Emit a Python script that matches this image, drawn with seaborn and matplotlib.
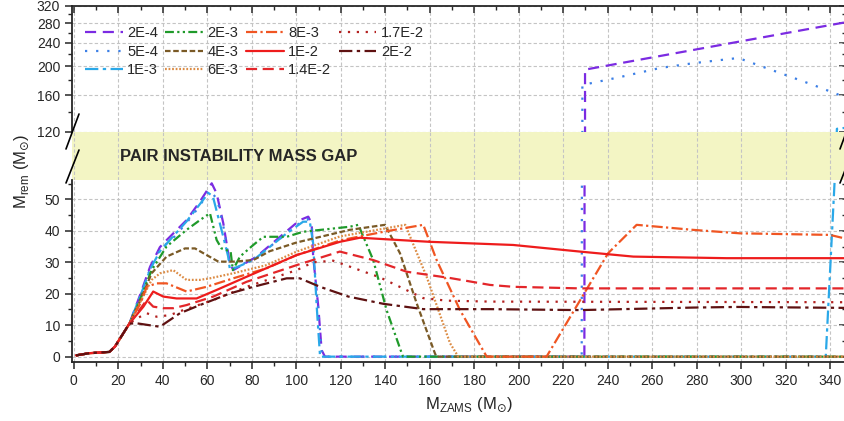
import numpy as np
import pandas as pd
import matplotlib
matplotlib.use('Agg')
import matplotlib.pyplot as plt
from matplotlib.lines import Line2D
from matplotlib.ticker import MultipleLocator, FixedLocator, NullFormatter, FormatStrFormatter
import seaborn as sns

# ---- data ----
labels = ['2E-4', '5E-4', '1E-3', '2E-3', '4E-3', '6E-3', '8E-3', '1E-2', '1.4E-2', '1.7E-2', '2E-2']

# low-mass part shared by every track
start_x = [1, 7, 16, 18.5, 25]
start_y = [0.4, 1.1, 1.5, 3.2, 10.5]

mzams_2e4 = start_x + [30, 34.3, 38.7, 41.8, 50.7, 56.7, 62, 64.2, 67.2, 70.2, 71.7, 82.2, 92.7, 101.6, 105.4,
                       106.9, 107.6, 109.9, 111.4, 112.9, 229.5, 229.8, 347]
mrem_2e4 = start_y + [20, 28.6, 34.8, 37.1, 43.4, 49.3, 55.1, 51.9, 42.4, 29.5, 27.5, 31.8, 38.1, 43.4, 44.5,
                      42.4, 31.8, 15.9, 2.1, 0, 0, 195, 282]

mzams_5e4 = start_x + [30, 34.5, 38.7, 45, 50.7, 56.7, 61, 64.5, 67.5, 70.2, 71.7, 82, 92.7, 101.6, 105, 107,
                       108, 110, 111.5, 113, 228.3, 228.6, 245.5, 263.5, 278.4, 298.7, 317.4, 332.4, 347]
mrem_5e4 = start_y + [19.5, 28.3, 34, 38, 42.5, 48, 53, 50, 40.5, 29, 28, 31.5, 37.5, 42.5, 43.8, 41.5,
                      30, 14, 1, 0, 0, 173, 184, 197.5, 205, 213.5, 190, 173, 157]

mzams_1e3 = start_x + [30, 34.5, 38.7, 45, 50.7, 56.7, 60.5, 62.5, 67.2, 69.4, 70.2, 80.7, 95.7, 103.1, 106.1,
                       107.6, 109.2, 110.7, 338, 342, 343, 347]
mrem_1e3 = start_y + [19.5, 28, 33.5, 38.5, 43, 48.5, 52, 51, 38.1, 31.8, 27.5, 30.7, 39.2, 42.9, 42.9,
                      36, 15.9, 0, 0, 56, 123, 124]

mzams_2e3 = start_x + [30, 35, 41.7, 50.7, 56.7, 61.2, 64.2, 66.4, 70.5, 71.5, 74.7, 80.7, 85.2, 95.7, 103.1,
                       124.1, 127.9, 134.6, 140.6, 147.4, 148, 347]
mrem_2e3 = start_y + [18.5, 27.5, 35, 40.3, 43.4, 45.6, 37.1, 34.4, 33.4, 27.5, 31.8, 35.5, 38.1, 38.1, 39.7,
                      41.3, 41.9, 30.7, 14.8, 1.1, 0, 0]

mzams_4e3 = start_x + [30, 35, 41.7, 50, 54.5, 59.7, 65, 71.7, 80.7, 88, 100.2, 124, 139.9, 146.6, 154.1,
                       162.3, 163, 347]
mrem_4e3 = start_y + [18, 26.5, 31.8, 34.4, 34.4, 32.3, 30.2, 30.2, 30.7, 33.5, 36.3, 40.3, 41.9, 32.9, 17,
                      1.1, 0, 0]

mzams_6e3 = start_x + [30, 35, 38.8, 44.7, 50.7, 56.7, 61.2, 71.7, 86.7, 100.2, 119.6, 149, 158.6, 169.1,
                       172.8, 347]
mrem_6e3 = start_y + [17.5, 24.4, 26.5, 27.5, 24.4, 24.4, 24.9, 26.5, 29.1, 33.4, 38.2, 41.9, 25.4, 4.3,
                      0, 0]

mzams_8e3 = start_x + [30, 32.8, 37.2, 41.7, 50.7, 59.7, 71.7, 86.7, 100.2, 120, 140, 157.1, 163.1, 173.6,
                       185.6, 212.5, 240.2, 253, 278.4, 299.4, 339.9, 347]
mrem_8e3 = start_y + [17, 22.2, 23.3, 23.3, 20.7, 22.2, 24.9, 28.1, 32.3, 37, 39.8, 41.9, 30.7, 14.8,
                      0, 0, 32.9, 41.9, 40.3, 39.2, 38.7, 37.5]

mzams_1e2 = start_x + [31.3, 35.7, 40.2, 46.2, 55.2, 64.2, 77.7, 100.2, 119.6, 128.6, 160, 197.5, 227.5,
                       251.5, 293.4, 347]
mrem_1e2 = start_y + [15.9, 20.7, 19.1, 18.5, 18.5, 21.2, 25.4, 32.3, 36.5, 37.8, 36.5, 35.5, 33.4,
                      31.8, 31.3, 31.3]

mzams_14e2 = start_x + [32.8, 35.7, 40.2, 44.7, 50.7, 62.7, 77.7, 100.2, 119.6, 134.6, 149.6, 169.1, 187.1,
                        197.5, 227.5, 347]
mrem_14e2 = start_y + [18, 15.9, 15.4, 15.4, 16.4, 19.1, 23.8, 29.1, 33.4, 30.7, 27, 25, 22.8,
                       22.2, 21.7, 21.7]

mzams_17e2 = start_x + [28, 32.8, 37.2, 43.2, 49.2, 62.7, 77.7, 100.2, 107.6, 116.6, 137.6, 157.1, 167.6,
                        187.1, 347]
mrem_17e2 = start_y + [12, 13.8, 12.7, 13.2, 14.8, 18, 22.2, 27.5, 30, 30.5, 25.2, 18.6, 17.8,
                       17.5, 17.3]

mzams_2e2 = start_x + [28.3, 38.7, 47.7, 56.7, 70.2, 80.7, 95.7, 101.6, 110.7, 123.4, 139.1, 157.1, 187.1,
                       227.5, 278.4, 298, 347]
mrem_2e2 = start_y + [10.6, 9.5, 13.8, 16.4, 20.1, 22.2, 24.9, 24.9, 22.2, 19.1, 16.8, 15.1, 15.1,
                      14.8, 15.6, 15.8, 15.5]

tracks = [(mzams_2e4, mrem_2e4), (mzams_5e4, mrem_5e4), (mzams_1e3, mrem_1e3), (mzams_2e3, mrem_2e3),
          (mzams_4e3, mrem_4e3), (mzams_6e3, mrem_6e3), (mzams_8e3, mrem_8e3), (mzams_1e2, mrem_1e2),
          (mzams_14e2, mrem_14e2), (mzams_17e2, mrem_17e2), (mzams_2e2, mrem_2e2)]

colors = {'2E-4': '#7b2be2', '5E-4': '#3b7fe6', '1E-3': '#2aa8e8', '2E-3': '#1f9a2a',
          '4E-3': '#7a5a26', '6E-3': '#dc8c45', '8E-3': '#f05522', '1E-2': '#ee1c1c',
          '1.4E-2': '#e3262a', '1.7E-2': '#b3201f', '2E-2': '#5e1111'}
dashes = {'2E-4': (5, 3), '5E-4': (1, 4), '1E-3': (6, 2, 1.5, 2), '2E-3': (4, 1.5, 1, 1.5, 1, 1.5),
          '4E-3': (2.5, 1.2), '6E-3': (0.8, 0.8), '8E-3': (5, 1.5, 1, 1.5), '1E-2': '',
          '1.4E-2': (5, 2.5), '1.7E-2': (1, 3), '2E-2': (6, 2, 1.5, 2)}

df = pd.concat([pd.DataFrame({'M_ZAMS': x, 'M_rem': y, 'Z': z}) for z, (x, y) in zip(labels, tracks)],
               ignore_index=True)

# ---- style ----
sns.set_theme(style='ticks')
plt.rcParams['font.family'] = ['Liberation Sans', 'DejaVu Sans']
plt.rcParams['axes.linewidth'] = 1.3
plt.rcParams['xtick.major.width'] = 1.1
plt.rcParams['ytick.major.width'] = 1.1
plt.rcParams['xtick.minor.width'] = 1.0
plt.rcParams['ytick.minor.width'] = 1.0

band_color = '#f3f5c4'
grid_kw = dict(color='#c4c4c4', linestyle=(0, (3, 2)), linewidth=0.8)

W, H = 845, 421
fig = plt.figure(figsize=(W / 100, H / 100), dpi=100)


def box(top_px, bot_px):
    return [72 / W, 1 - bot_px / H, 774 / W, (bot_px - top_px) / H]


ax_top = fig.add_axes(box(6, 132))
ax_mid = fig.add_axes(box(132, 180), sharex=ax_top)
ax_bot = fig.add_axes(box(180, 362), sharex=ax_top)

for ax in (ax_top, ax_bot):
    sns.lineplot(data=df, x='M_ZAMS', y='M_rem', hue='Z', style='Z', hue_order=labels, style_order=labels,
                 palette=colors, dashes=dashes, estimator=None, sort=False, legend=False,
                 linewidth=1.6, ax=ax)
    ax.set_xlabel('')
    ax.set_ylabel('')
    ax.set_axisbelow(True)
    ax.grid(True, which='major', **grid_kw)

ax_top.set_xlim(-0.8, 347.1)
ax_top.xaxis.set_major_locator(MultipleLocator(20))
ax_top.xaxis.set_minor_locator(MultipleLocator(10))

# upper part: log scale 120-320
ax_top.set_yscale('log')
ax_top.set_ylim(120, 320)
ax_top.yaxis.set_major_locator(FixedLocator([120, 160, 200, 240, 280, 320]))
ax_top.yaxis.set_minor_locator(FixedLocator([140, 180, 220, 260, 300]))
ax_top.yaxis.set_major_formatter(FormatStrFormatter('%d'))
ax_top.yaxis.set_minor_formatter(NullFormatter())
ax_top.tick_params(axis='x', which='both', top=True, bottom=False, labelbottom=False, direction='in')
ax_top.tick_params(axis='x', which='major', length=5)
ax_top.tick_params(axis='x', which='minor', length=3)
ax_top.spines['bottom'].set_visible(False)

# gap band
ax_mid.set_ylim(0, 1)
ax_mid.set_facecolor(band_color)
ax_mid.set_yticks([])
ax_mid.tick_params(axis='x', which='both', length=0, labelbottom=False)
ax_mid.grid(True, axis='x', which='major', **grid_kw)
for s in ax_mid.spines.values():
    s.set_visible(False)
ax_mid.text(20.8, 0.48, 'PAIR INSTABILITY MASS GAP', fontsize=12, fontweight='bold',
            ha='left', va='center')

# lower part: linear
ax_bot.set_ylim(-1.7, 56.15)
ax_bot.yaxis.set_major_locator(MultipleLocator(10))
ax_bot.yaxis.set_minor_locator(MultipleLocator(5))
ax_bot.tick_params(axis='x', which='both', direction='out', labelsize=10)
ax_bot.tick_params(axis='x', which='major', length=5)
ax_bot.tick_params(axis='x', which='minor', length=3)
ax_bot.spines['top'].set_visible(False)

for ax in (ax_top, ax_bot):
    ax.tick_params(axis='y', which='both', direction='out', labelsize=10)
    ax.tick_params(axis='y', which='major', length=5)
    ax.tick_params(axis='y', which='minor', length=3)
    sec = ax.secondary_yaxis('right')
    sec.yaxis.set_major_locator(ax.yaxis.get_major_locator())
    sec.yaxis.set_minor_locator(ax.yaxis.get_minor_locator())
    sec.tick_params(axis='y', which='both', direction='in', labelright=False)
    sec.tick_params(axis='y', which='major', length=5)
    sec.tick_params(axis='y', which='minor', length=3)

# axis break marks
for x0 in (66, 840):
    for yb, yt in ((149, 114), (183, 150)):
        fig.add_artist(Line2D([x0 / W, (x0 + 13) / W], [1 - yb / H, 1 - yt / H],
                              transform=fig.transFigure, color='black', lw=1.2))

# legend
handles = [Line2D([], [], color=colors[z], lw=1.6, dashes=dashes[z]) for z in labels]
ax_top.legend(handles, labels, ncol=4, loc='upper left', bbox_to_anchor=(85 / W, 1 - 26 / H),
              bbox_transform=fig.transFigure, frameon=False, fontsize=10.5, handlelength=2.6,
              handletextpad=0.3, columnspacing=0.5, labelspacing=0.32, borderpad=0, borderaxespad=0)

fig.text(22 / W, 1 - 171 / H, r'M$_{\mathregular{rem}}$ (M$_{\odot}$)', rotation=90,
         ha='center', va='center', fontsize=12)
fig.text(469 / W, 1 - 405 / H, r'M$_{\mathregular{ZAMS}}$ (M$_{\odot}$)', ha='center', va='center',
         fontsize=12)

fig.savefig('out.png', dpi=100)
